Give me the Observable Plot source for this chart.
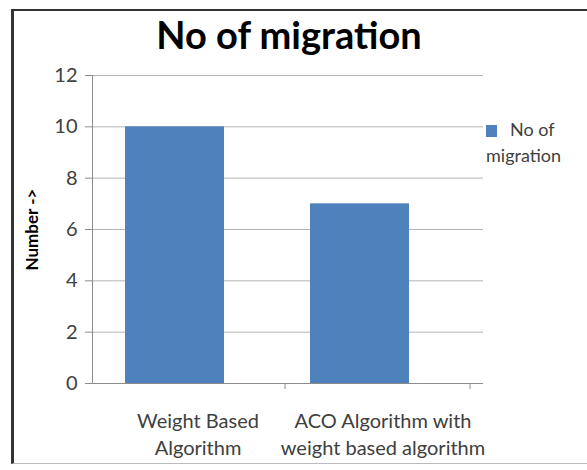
<!DOCTYPE html>
<html>
<head>
<meta charset="utf-8">
<script src="https://cdn.jsdelivr.net/npm/d3@7"></script>
<script src="https://cdn.jsdelivr.net/npm/@observablehq/plot@0.6"></script>
<style>
  html, body { margin: 0; padding: 0; background: #fff; }
  #wrap { position: relative; width: 587px; height: 470px; overflow: hidden; font-family: Lato, "Open Sans", sans-serif; }
  #wrap svg { position: absolute; left: 0; top: 0; }
  #border { position: absolute; left: 11px; top: 9px; width: 620px; height: 455px;
            border-left: 3px solid #333; border-top: 2px solid #333; border-bottom: 1px solid #bbb; box-sizing: border-box; }
  #title { position: absolute; left: 0; width: 578px; top: 9px; text-align: center;
           font-weight: bold; font-size: 38px; color: #000; line-height: 50px; }
  #legend { position: absolute; left: 486px; top: 116px; width: 100px; font-size: 18px; line-height: 26px; color: #404040; }
  #legend .sw { display: inline-block; width: 11px; height: 12px; margin-right: 13px; vertical-align: -1px; }
</style>
</head>
<body>
<div id="wrap">
  <div id="border"></div>
  <div id="title"></div>
  <div id="legend"></div>
</div>
<script>
const categories = ["Weight Based Algorithm", "ACO Algorithm with weight based algorithm"];
const values = [10, 7];
const xTickLabels = ["Weight Based\nAlgorithm", "ACO Algorithm with\nweight based algorithm"];
const yTicks = [0, 2, 4, 6, 8, 10, 12];
const seriesName = "No of migration";
const chartTitle = "No of migration";
const yLabel = "Number ->";
const barColor = "#4f81bd";

const data = categories.map((c, i) => ({category: c, value: values[i], label: xTickLabels[i]}));

document.getElementById("title").textContent = chartTitle;
const legend = document.getElementById("legend");
const sw = document.createElement("span");
sw.className = "sw";
sw.style.background = barColor;
legend.appendChild(sw);
legend.appendChild(document.createTextNode(seriesName));

const chart = Plot.plot({
  width: 587,
  height: 470,
  marginTop: 75,
  marginBottom: 87,
  marginLeft: 92,
  marginRight: 104,
  style: {background: "transparent", fontFamily: "Lato, 'Open Sans', sans-serif"},
  x: {domain: categories, paddingInner: 0.466, paddingOuter: 0.287, align: 0.31, axis: null},
  y: {domain: [0, 12], axis: null},
  marks: [
    Plot.gridY(yTicks, {stroke: "#b3b3b3", strokeOpacity: 1, strokeWidth: 1}),
    Plot.axisY(yTicks, {tickSize: 7, tickPadding: 8, stroke: "#8c8c8c", fill: "#404040", fontSize: 20, label: null}),
    Plot.frame({anchor: "left", stroke: "#8c8c8c"}),
    Plot.barY(data, {x: "category", y: "value", fill: barColor}),
    Plot.ruleY([0], {stroke: "#8c8c8c"}),
    Plot.ruleX(data, {x: "category", y1: 0, y2: 0, insetBottom: -6, dx: 110, stroke: "#8c8c8c"}),
    Plot.text(data, {x: "category", text: "label", frameAnchor: "bottom", lineAnchor: "top", dy: 25, dx: 23,
                     lineHeight: 1.35, fontSize: 20, fill: "#404040"}),
    Plot.text([yLabel], {frameAnchor: "left", textAnchor: "middle", dx: -60, rotate: -90, fontWeight: "bold", fontSize: 17, fill: "#000"})
  ]
});
document.getElementById("wrap").insertBefore(chart, document.getElementById("border"));
</script>
</body>
</html>
